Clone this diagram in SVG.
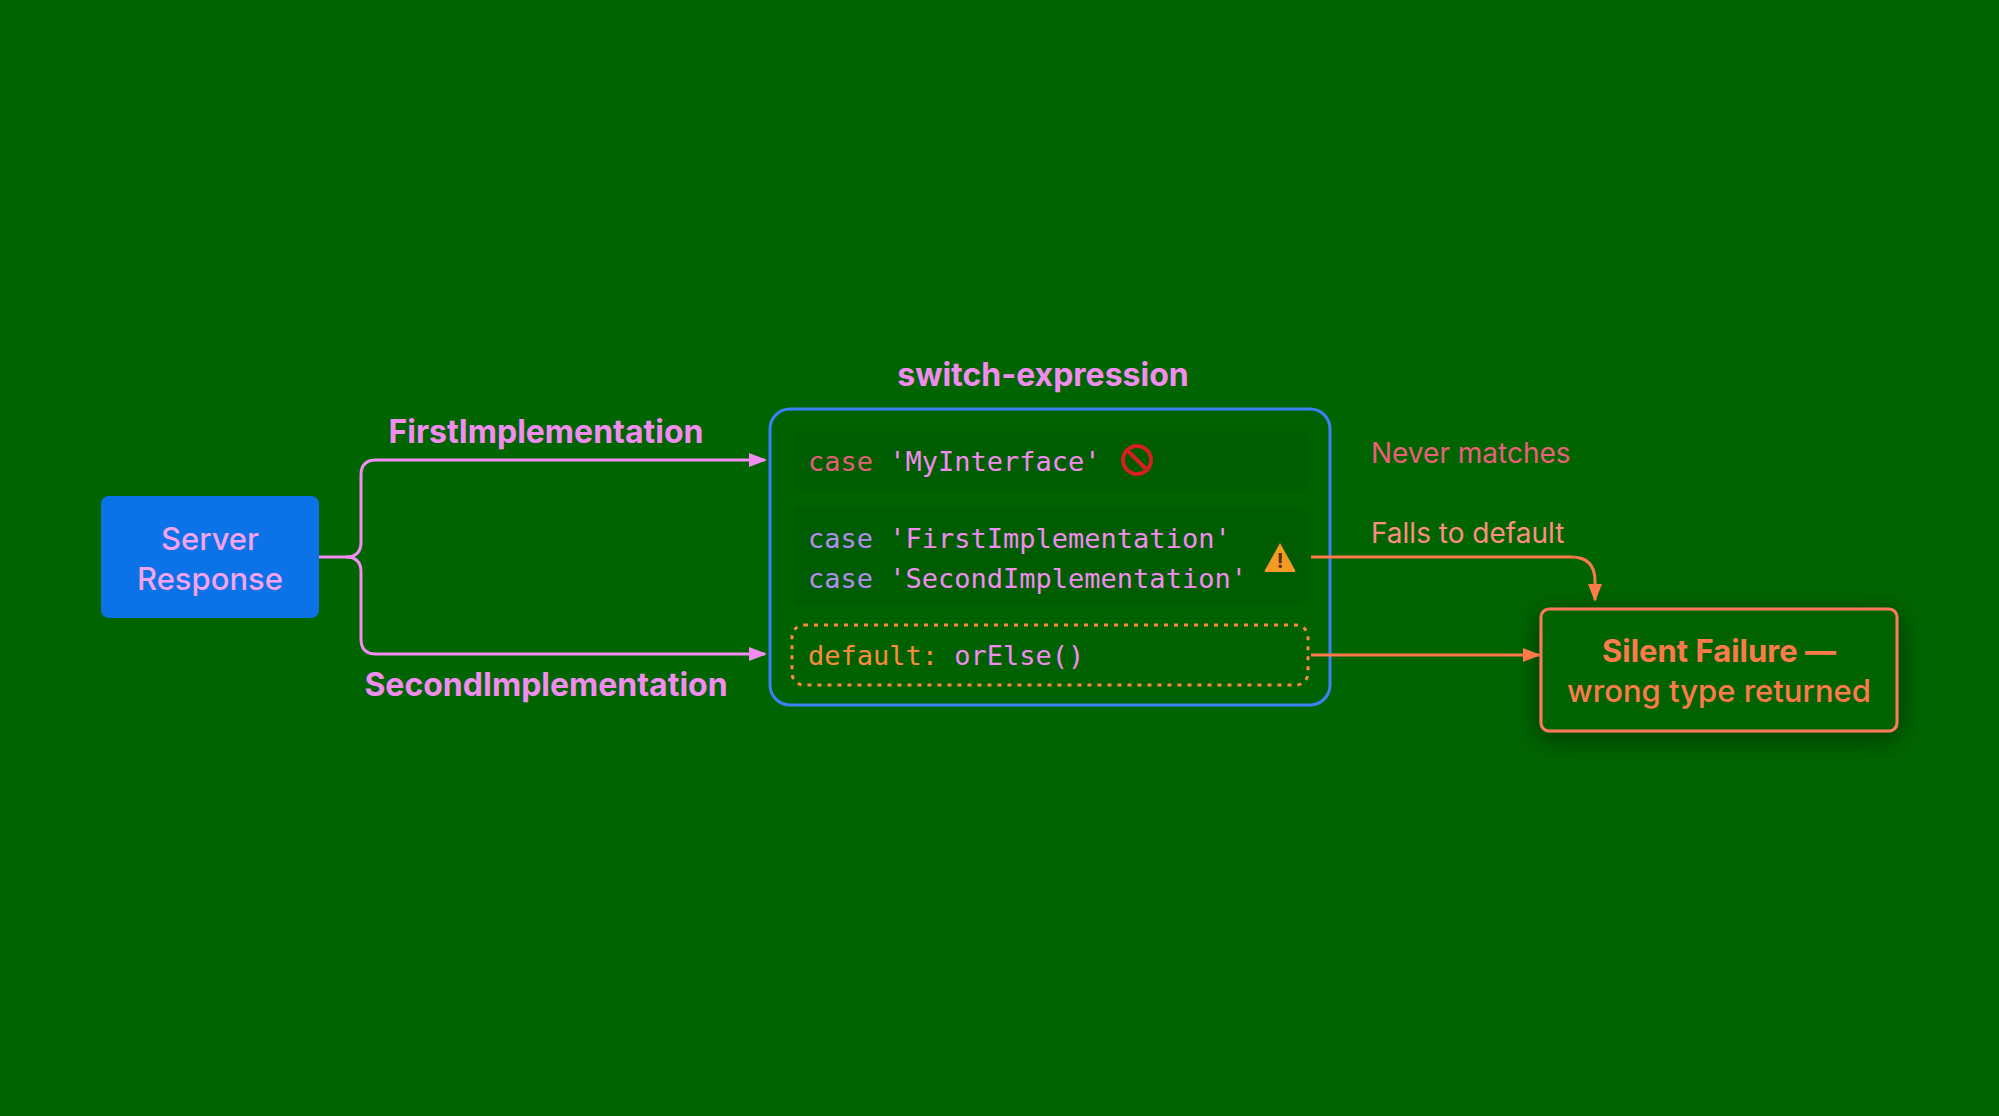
<svg xmlns="http://www.w3.org/2000/svg" width="1999" height="1116" viewBox="0 0 1999 1116">
<defs>
<marker id="ap" markerWidth="18" markerHeight="18" refX="16" refY="9" orient="auto" markerUnits="userSpaceOnUse" viewBox="0 0 18 18"><path d="M0,2 L18,9 L0,16 z" fill="#f28cf0"/></marker>
<marker id="ao" markerWidth="18" markerHeight="18" refX="16" refY="9" orient="auto" markerUnits="userSpaceOnUse" viewBox="0 0 18 18"><path d="M0,2 L18,9 L0,16 z" fill="#ff7a4a"/></marker>
<filter id="sh" x="-30%" y="-40%" width="160%" height="180%"><feDropShadow dx="0" dy="6" stdDeviation="14" flood-color="#000" flood-opacity="0.45"/></filter>
</defs>
<style>
.sans{font-family:Inter,"Liberation Sans",sans-serif}
.mono{font-family:"DejaVu Sans Mono","Liberation Mono",monospace;font-size:27px}
.lbl{font-size:32px;font-weight:700;fill:#f28cf0}
.pk{fill:#f28cf0}
</style>
<rect width="1999" height="1116" fill="#006400"/>
<text class="sans lbl" x="546" y="443" text-anchor="middle">FirstImplementation</text>
<text class="sans lbl" x="546" y="696" text-anchor="middle">SecondImplementation</text>
<text class="sans" x="1371" y="463" font-size="28" fill="#e8607a">Never matches</text>
<text class="sans" x="1371" y="543" font-size="28" fill="#ff8e80">Falls to default</text>
<g id="server">
<rect x="101" y="496" width="218" height="122" rx="8" fill="#0b72e8"/>
<text class="sans" x="210" y="550" font-size="31" font-weight="500" fill="#f5a3f0" text-anchor="middle">Server</text>
<text class="sans" x="210" y="590" font-size="31" font-weight="500" fill="#f5a3f0" text-anchor="middle">Response</text>
</g>
<g id="switch">
<text class="sans lbl" x="1043" y="386" text-anchor="middle">switch-expression</text>
<rect x="770" y="409" width="560" height="296" rx="20" fill="#006100" stroke="#3b82f6" stroke-width="3"/>
<rect x="792" y="431" width="516" height="59" rx="10" fill="#005c00"/>
<text class="mono" x="808" y="471"><tspan fill="#e0607a">case</tspan><tspan class="pk"> 'MyInterface'</tspan></text>
<g transform="translate(1137,460)"><circle r="14" fill="none" stroke="#d42020" stroke-width="4"/><line x1="-10" y1="-10" x2="10" y2="10" stroke="#d42020" stroke-width="4"/></g>
<rect x="792" y="506" width="516" height="100" rx="10" fill="#005c00"/>
<text class="mono" x="808" y="548"><tspan fill="#b48cf0">case</tspan><tspan class="pk"> 'FirstImplementation'</tspan></text>
<text class="mono" x="808" y="588"><tspan fill="#b48cf0">case</tspan><tspan class="pk"> 'SecondImplementation'</tspan></text>
<g transform="translate(1280,558)"><path d="M0,-15 L15,12 Q16,14 14,14 H-14 Q-16,14 -15,12 Z" fill="#f59a24"/><text x="0" y="10" font-family="Inter,sans-serif" font-weight="700" font-size="20" fill="#5a2a00" text-anchor="middle">!</text></g>
<rect x="792" y="625" width="516" height="60" rx="12" fill="#006100" stroke="#ff8a3c" stroke-width="3" stroke-dasharray="4 6"/>
<text class="mono" x="808" y="665"><tspan fill="#ff8a3c">default:</tspan><tspan class="pk"> orElse()</tspan></text>
</g>
<g id="failure">
<rect x="1541" y="609" width="356" height="122" rx="8" fill="#006400" stroke="#ff7a5a" stroke-width="3" filter="url(#sh)"/>
<text class="sans" x="1719" y="662" font-size="31" font-weight="700" fill="#ff7a4a" text-anchor="middle">Silent Failure —</text>
<text class="sans" x="1719" y="702" font-size="31" font-weight="500" fill="#ff7a4a" text-anchor="middle">wrong type returned</text>
</g>
<g id="connectors" fill="none" stroke-width="3">
<path d="M319,557 H346 Q361,557 361,542 V475 Q361,460 376,460 H765" stroke="#f28cf0" marker-end="url(#ap)"/>
<path d="M346,557 Q361,557 361,572 V639 Q361,654 376,654 H765" stroke="#f28cf0" marker-end="url(#ap)"/>
<path d="M1311,557 H1571 Q1595,557 1595,581 V600" stroke="#ff7a4a" marker-end="url(#ao)"/>
<path d="M1311,655 H1539" stroke="#ff7a4a" marker-end="url(#ao)"/>
</g>
</svg>
